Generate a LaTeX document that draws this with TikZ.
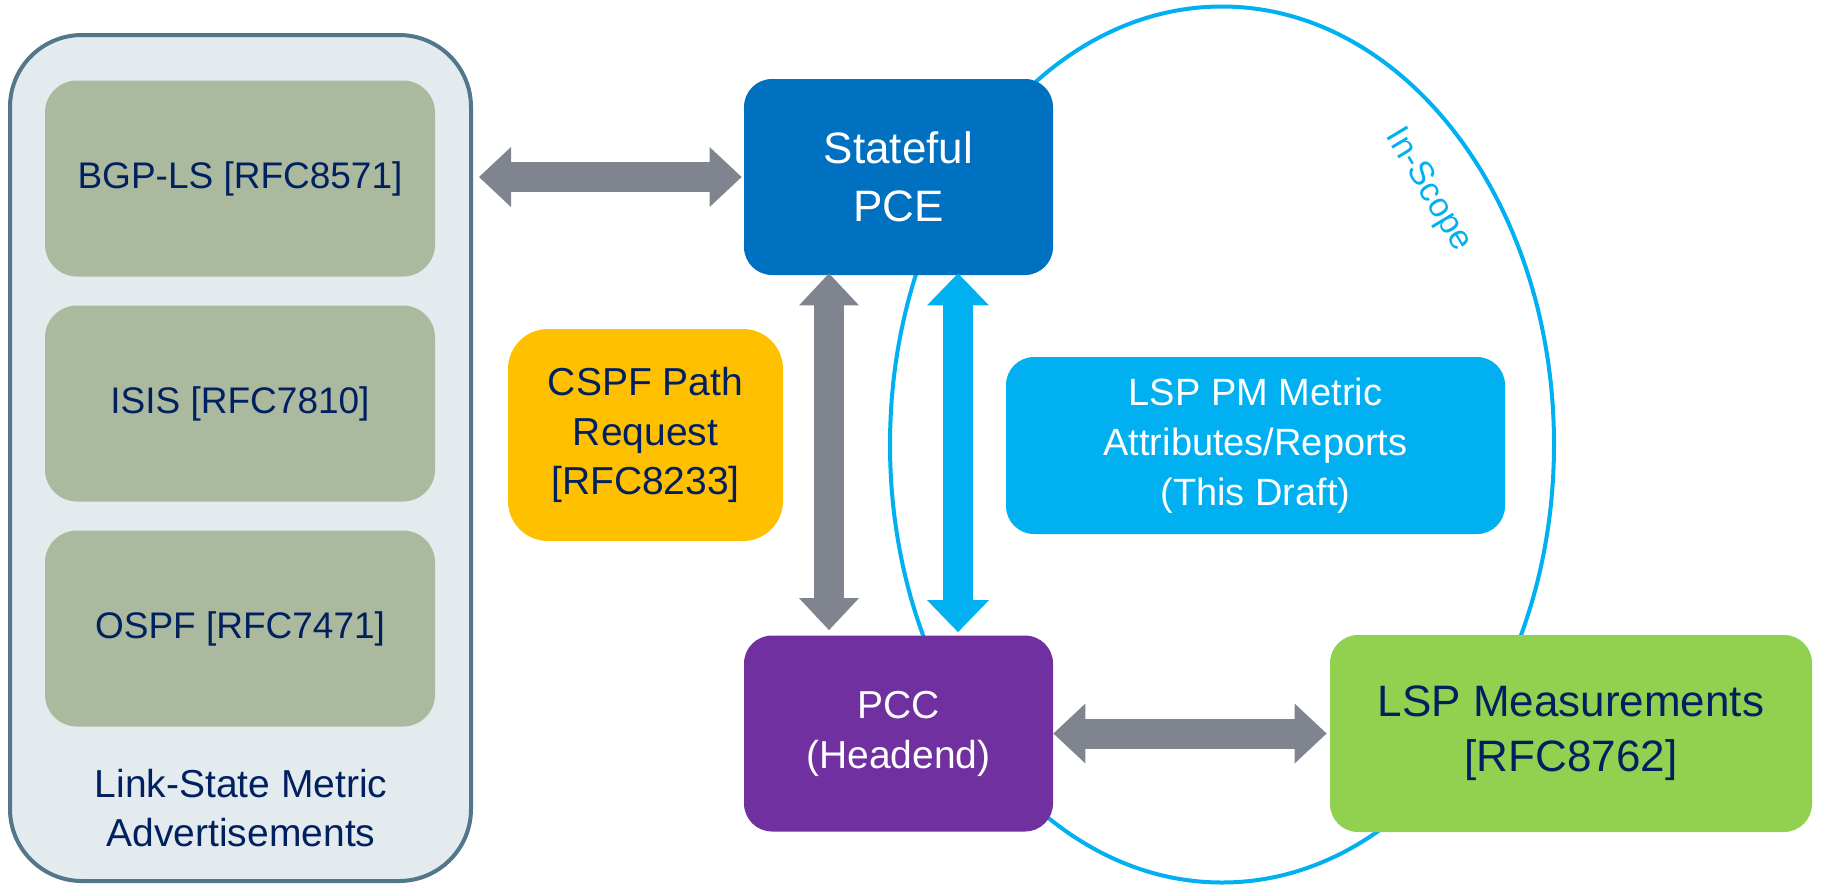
\documentclass[tikz,border=0pt]{standalone}
\usepackage{fontspec}
\setmainfont{Liberation Sans}
\usepackage{tikz}
\usetikzlibrary{shapes.geometric, arrows.meta, positioning, calc}
\definecolor{panelfill}{HTML}{E3EBEE}
\definecolor{panelline}{HTML}{52768A}
\definecolor{igpfill}{HTML}{ABB99E}
\definecolor{navy}{HTML}{002060}
\definecolor{pceblue}{HTML}{0070C0}
\definecolor{pccpurple}{HTML}{7030A0}
\definecolor{cspfyellow}{HTML}{FFC000}
\definecolor{skyblue}{HTML}{00B0F0}
\definecolor{measgreen}{HTML}{92D050}
\definecolor{arrowgray}{HTML}{7F848E}
\tikzset{
    container/.style={rectangle, rounded corners=36pt, draw=panelline, line width=2pt, fill=panelfill, minimum width=230.5pt, minimum height=423pt},
    protocol/.style={rectangle, rounded corners=16pt, fill=igpfill, minimum width=195pt, minimum height=98pt, text=navy, align=center, font=\fontsize{18.5}{24}\selectfont},
    element/.style={rectangle, rounded corners=14pt, minimum width=154.5pt, minimum height=98pt, align=center},
    scopeline/.style={ellipse, draw=skyblue, line width=2pt, minimum width=332pt, minimum height=438pt},
    grayarrow/.style={draw=arrowgray, line width=15pt, >={Triangle[width=30pt, length=16pt, line width=0pt]}, <->},
    bluearrow/.style={draw=skyblue, line width=15pt, >={Triangle[width=31pt, length=16pt, line width=0pt]}, <->}
}
\begin{document}
\begin{tikzpicture}[x=0.5pt, y=-0.5pt, node distance=112.5pt]
\useasboundingbox (0,0) rectangle (1821,885);

% In-scope ellipse behind everything
\node (inscope) [scopeline] at (1222,444.5) {};
\node (scopelabel) [rotate=-59, text=skyblue, font=\fontsize{17}{20}\selectfont] at (1428,190) {In-Scope};

% Link-state advertisements
\node (adverts) [container] at (240.5,458) {};
\node (bgp) [protocol] at (240,178.5) {BGP-LS [RFC8571]};
\node (isis) [protocol, below of=bgp] {ISIS [RFC7810]};
\node (ospf) [protocol, below of=isis] {OSPF [RFC7471]};
\node (lsmlabel) [text=navy, align=center, font=\fontsize{19.5}{24.7}\selectfont] at (241,808) {Link-State Metric\\Advertisements};

% PCEP elements
\node (pce) [element, fill=pceblue, text=white, font=\fontsize{22}{29}\selectfont] at (898.5,177) {Stateful\\PCE};
\node (pcc) [element, fill=pccpurple, text=white, font=\fontsize{19.5}{25}\selectfont] at (898.5,733.5) {PCC\\(Headend)};
\node (cspf) [element, rounded corners=20pt, fill=cspfyellow, text=navy, minimum width=137.5pt, minimum height=106pt, font=\fontsize{19.5}{24.7}\selectfont] at (645.5,435) {CSPF Path\\Request\\{[RFC8233]}};
\node (lsppm) [element, fill=skyblue, text=white, minimum width=249.5pt, minimum height=88.5pt, font=\fontsize{19}{25}\selectfont] at (1255.5,445.5) {LSP PM Metric\\Attributes/Reports\\(This Draft)};
\node (lspm) [element, fill=measgreen, text=navy, minimum width=241pt, minimum height=98.5pt, font=\fontsize{22}{27.5}\selectfont] at (1571,733.5) {LSP Measurements\\{[RFC8762]}};

% Arrows
\draw [grayarrow, shorten <=3pt, shorten >=1pt] (adverts.east |- pce.west) -- (pce.west);
\draw [grayarrow, shorten <=-1pt, shorten >=2.5pt] ([xshift=-34.75pt]pce.south) -- ([xshift=-34.75pt]pcc.north);
\draw [bluearrow, shorten <=-1pt, shorten >=1.5pt] ([xshift=29.75pt]pce.south) -- ([xshift=29.75pt]pcc.north);
\draw [grayarrow, shorten >=1.5pt] (pcc.east) -- (lspm.west);

\end{tikzpicture}
\end{document}
